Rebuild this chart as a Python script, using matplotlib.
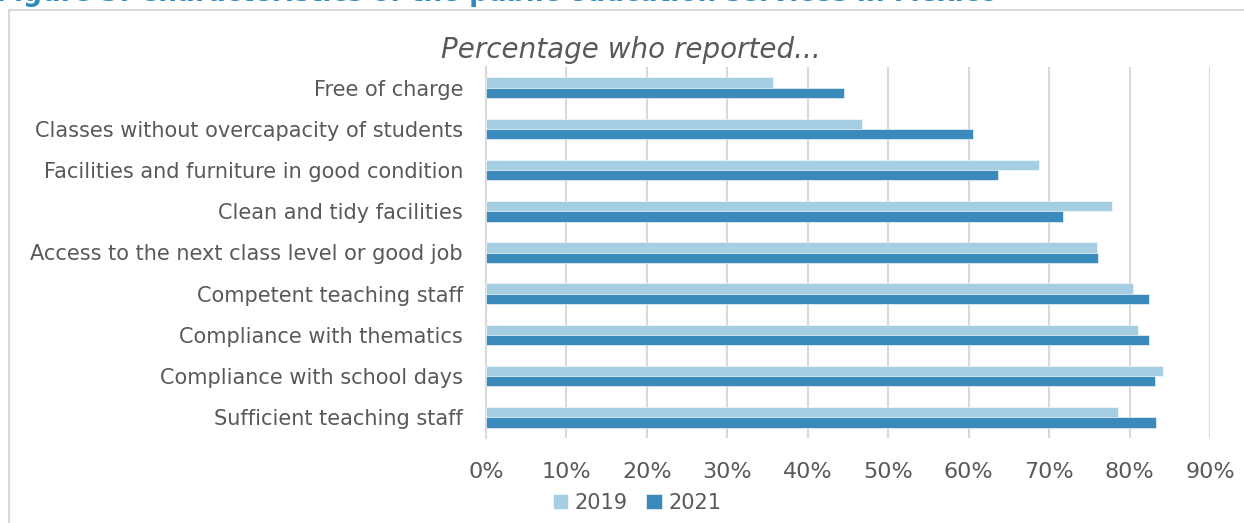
import matplotlib.pyplot as plt
from matplotlib.patches import Rectangle
import numpy as np

categories = ['Free of charge',
              'Classes without overcapacity of students',
              'Facilities and furniture in good condition',
              'Clean and tidy facilities',
              'Access to the next class level or good job',
              'Competent teaching staff',
              'Compliance with thematics',
              'Compliance with school days',
              'Sufficient teaching staff']
vals_2019 = [35.7, 46.7, 68.7, 77.8, 75.9, 80.4, 81.1, 84.1, 78.6]
vals_2021 = [44.5, 60.5, 63.7, 71.7, 76.1, 82.4, 82.4, 83.2, 83.3]
xticks = [0, 10, 20, 30, 40, 50, 60, 70, 80, 90]

c19 = '#a6cee3'
c21 = '#3a8bbb'
txt = '#595959'

fig = plt.figure(figsize=(12.44, 5.23), dpi=100)
W, H = 1244, 523

# outer frame of the figure box
fig.patches.append(Rectangle((9 / W, -0.1), 1.2, 1 - 10 / H + 0.1, transform=fig.transFigure,
                             fill=False, edgecolor='#d9d9d9', lw=1.5))

# heading, mostly cut off at the top edge
fig.text(-4 / W, 1 - 1 / H, 'Figure 3: Characteristics of the public education services in Mexico',
         fontsize=19, fontweight='bold', color='#2e8bc0', va='baseline', ha='left')

ax = fig.add_axes([486 / W, 1 - 438 / H, (1210 - 486) / W, (438 - 67) / H])
y = np.arange(len(categories))
h = 0.25
ax.barh(y - h / 2, vals_2019, height=h, color=c19, edgecolor='white', lw=0.4, label='2019', zorder=3)
ax.barh(y + h / 2, vals_2021, height=h, color=c21, edgecolor='white', lw=0.4, label='2021', zorder=3)

ax.set_xlim(0, 90)
ax.set_ylim(len(categories) - 0.5, -0.5)
ax.set_yticks(y)
ax.set_yticklabels(categories, fontsize=15, color=txt)
ax.set_xticks(xticks)
ax.set_xticklabels([f'{t}%' for t in xticks], fontsize=16, color=txt)
ax.tick_params(axis='y', length=0, pad=16.5)
ax.tick_params(axis='x', length=0, pad=17)
ax.grid(axis='x', color='#d9d9d9', lw=1.5, zorder=0)
for s in ['top', 'right', 'bottom']:
    ax.spines[s].set_visible(False)
ax.spines['left'].set_color('#d9d9d9')
ax.spines['left'].set_linewidth(1.5)

fig.text(631 / W, 1 - 50 / H, 'Percentage who reported...', fontsize=20, style='italic',
         color=txt, ha='center', va='center')

ax.legend(loc='center', bbox_to_anchor=(637 / W, 1 - 503 / H), bbox_transform=fig.transFigure,
          ncol=2, frameon=False, fontsize=15, labelcolor=txt, handlelength=0.75, handleheight=0.75,
          handletextpad=0.3, columnspacing=0.9)

fig.savefig('out.png', dpi=100)
